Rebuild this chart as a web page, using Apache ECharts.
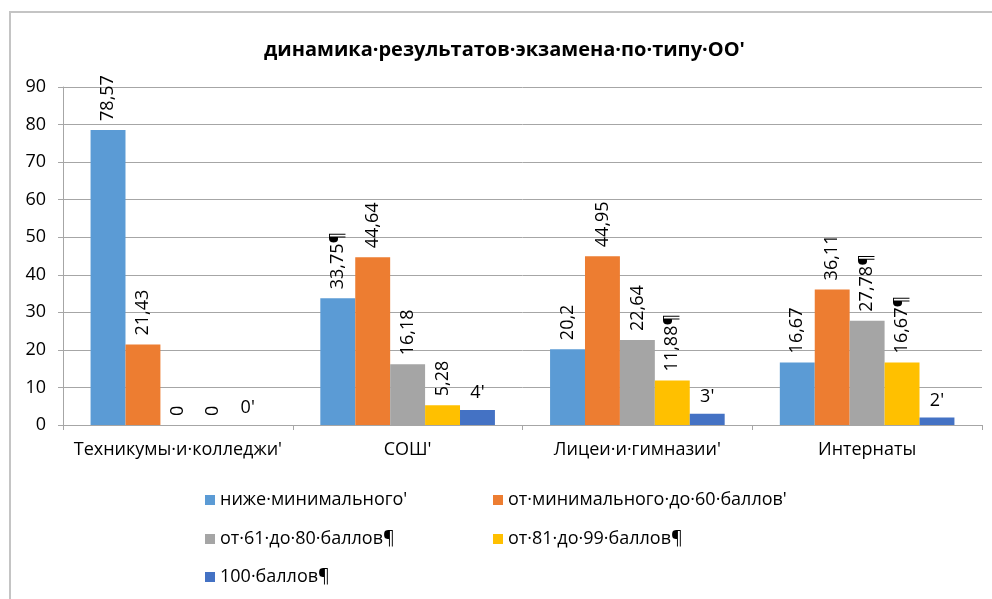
<!DOCTYPE html>
<html>
<head>
<meta charset="utf-8">
<script src="https://cdn.jsdelivr.net/npm/echarts@6/dist/echarts.min.js"></script>
<style>
html,body{margin:0;padding:0;background:#fff;}
#c{width:992px;height:599px;}
</style>
</head>
<body>
<div id="c"></div>
<script>
const titleText = "динамика·результатов·экзамена·по·типу·ОО'";
const categories = ["Техникумы·и·колледжи'", "СОШ'", "Лицеи·и·гимназии'", "Интернаты"];
const seriesNames = ["ниже·минимального'", "от·минимального·до·60·баллов'", "от·61·до·80·баллов¶", "от·81·до·99·баллов¶", "100·баллов¶"];
const belowMin = [78.57, 33.75, 20.2, 16.67];
const minTo60 = [21.43, 44.64, 44.95, 36.11];
const from61to80 = [0, 16.18, 22.64, 27.78];
const from81to99 = [0, 5.28, 11.88, 16.67];
const score100 = [0, 4, 3, 2];
const labelsBelowMin = ["78,57", "33,75¶", "20,2", "16,67"];
const labelsMinTo60 = ["21,43", "44,64", "44,95", "36,11"];
const labels61to80 = ["0", "16,18", "22,64", "27,78¶"];
const labels81to99 = ["0", "5,28", "11,88¶", "16,67¶"];
const labels100 = ["0'", "4'", "3'", "2'"];
const yTicks = [0, 10, 20, 30, 40, 50, 60, 70, 80, 90];

const colors = ['#5B9BD5', '#ED7D31', '#A5A5A5', '#FFC000', '#4472C4'];
const font = "'Open Sans', 'Noto Sans', sans-serif";
const fs = 18;

const chart = echarts.init(document.getElementById('c'));

function rotLabel(texts) {
  return {
    show: true, position: 'top', rotate: 90, align: 'left', verticalAlign: 'middle',
    distance: 9, fontSize: fs, color: '#000', fontFamily: font,
    formatter: p => texts[p.dataIndex]
  };
}
function flatLabel(texts) {
  return {
    show: true, position: 'top', distance: 8, fontSize: fs, color: '#000', fontFamily: font,
    formatter: p => texts[p.dataIndex]
  };
}

const values = [belowMin, minTo60, from61to80, from81to99, score100];
const labelSets = [rotLabel(labelsBelowMin), rotLabel(labelsMinTo60), rotLabel(labels61to80), rotLabel(labels81to99), flatLabel(labels100)];

const legendPos = [
  {left: 205, top: 491},
  {left: 493, top: 491},
  {left: 205, top: 530},
  {left: 493, top: 530},
  {left: 205, top: 568}
];

const option = {
  animation: false,
  color: colors,
  title: {
    text: titleText, left: 259, top: 35,
    textStyle: {fontSize: 20, fontWeight: 'bold', color: '#000', fontFamily: font}
  },
  graphic: [{
    type: 'rect', shape: {x: 10, y: 12, width: 1000, height: 620},
    style: {fill: 'none', stroke: '#c4c4c4', lineWidth: 2}, silent: true, z: -1
  }],
  legend: seriesNames.map((n, i) => ({
    data: [n], left: legendPos[i].left, top: legendPos[i].top, padding: 0,
    itemWidth: 10, itemHeight: 10, icon: 'rect',
    textStyle: {fontSize: fs, color: '#000', fontFamily: font}
  })),
  grid: {left: 63, right: 10, top: 87, bottom: 174, containLabel: false},
  xAxis: {
    type: 'category', data: categories,
    axisLine: {lineStyle: {color: '#a6a6a6'}},
    axisTick: {show: true, length: 5, lineStyle: {color: '#a6a6a6'}},
    axisLabel: {fontSize: fs, color: '#000', margin: 16, fontFamily: font, interval: 0}
  },
  yAxis: {
    type: 'value', min: yTicks[0], max: yTicks[yTicks.length - 1], interval: 10,
    axisLine: {show: true, lineStyle: {color: '#a6a6a6'}},
    axisTick: {show: true, length: 5, lineStyle: {color: '#a6a6a6'}},
    splitLine: {lineStyle: {color: '#a6a6a6'}},
    axisLabel: {fontSize: fs, color: '#000', margin: 17, fontFamily: font}
  },
  series: seriesNames.map((n, i) => ({
    name: n, type: 'bar', data: values[i],
    barGap: '0%', barCategoryGap: '24%',
    itemStyle: {color: colors[i]},
    label: labelSets[i]
  }))
};
chart.setOption(option);
</script>
</body>
</html>
